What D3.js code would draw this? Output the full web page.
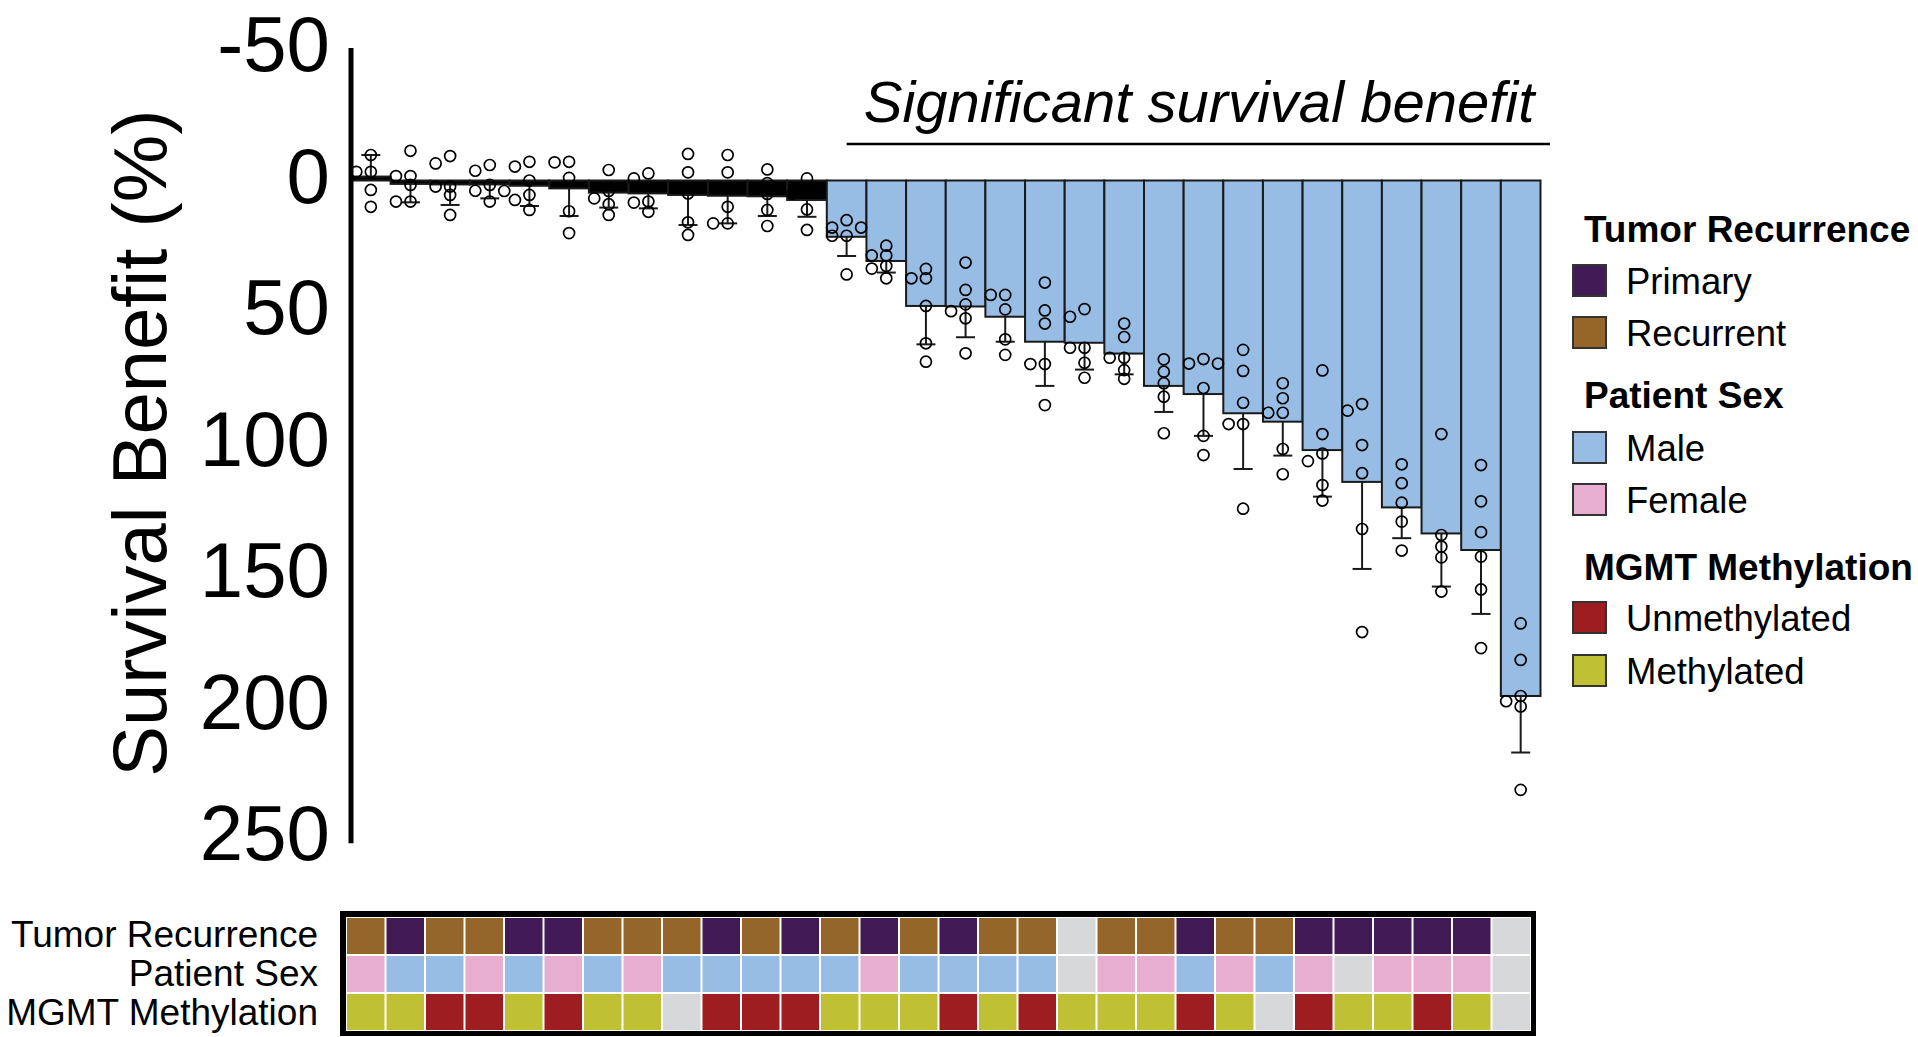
<!DOCTYPE html>
<html><head><meta charset="utf-8">
<script src="https://cdn.jsdelivr.net/npm/d3@7"></script>
<style>html,body{margin:0;padding:0;background:#fff;} svg{display:block;font-family:"Liberation Sans",Arial,Helvetica,sans-serif;}</style>
</head><body><svg id="chart" width="1918" height="1037"></svg>
<script>
// ---------- DATA ----------
const samples = d3.range(1, 31).map(i => "S" + i);
const meanBenefit = [-1.5, 1.3, 1.5, 1.5, 2.0, 3.0, 4.6, 4.9, 5.5, 5.8, 6.0, 7.4,
  21.4, 30.6, 47.7, 47.9, 51.8, 61.3, 61.7, 65.8, 78.1, 81.2, 88.5, 91.7, 102.5, 114.6, 124.3, 134.2, 140.5, 196.0];
const sdBenefit = [8.2, 7.0, 7.8, 5.3, 7.7, 10.5, 5.7, 5.7, 11.4, 10.5, 7.5, 6.4,
  7.3, 4.4, 14.6, 11.7, 9.5, 16.8, 10.2, 7.9, 9.9, 15.9, 21.2, 12.9, 17.7, 33.1, 11.7, 20.2, 24.3, 21.5];
const replicateValues = [
  [-9.7, -3.3, -3.3, 3.6, 10],
  [-11.3, -1.7, -1.7, 1.7, 8, 8],
  [-9.3, -6.5, 2.3, 2.3, 5.5, 13.1],
  [-5.9, -3.7, 1.7, 3.9, 4, 8],
  [-7.1, -5.3, 0, 5.5, 7.4, 11.2],
  [-7.1, -6.9, -1, 11.7, 20],
  [-4, 4, 6.8, 9, 13.1],
  [-2.7, -0.8, 8, 8.4, 11.9],
  [-10.1, -3.1, 4.9, 15.9, 20.7],
  [-9.7, -3.1, 10, 16.3, 16.3],
  [-4.2, 1, 5.1, 11.2, 17.3],
  [-0.8, 3, 5, 11, 18.8],
  [15.1, 17.9, 17.9, 21, 21, 35.7],
  [24.8, 28.5, 28.5, 32.5, 33.5, 37.2],
  [33.6, 37.2, 37.2, 47.7, 61.9, 68.9],
  [31.2, 41.6, 47.1, 49.7, 52.4, 65.7],
  [43.5, 43.5, 49, 60.4, 66.3],
  [38.8, 49.4, 54.4, 69.8, 69.8, 85.4],
  [48.9, 51.8, 63.6, 63.6, 69.3, 75],
  [54.4, 59.5, 67.4, 67.4, 72.1, 75.4],
  [68, 72.7, 77.1, 82.2, 96.1],
  [67.9, 69.6, 69.6, 78.9, 97.1, 104.4],
  [64.4, 72.4, 84.5, 92.6, 92.6, 124.8],
  [77.1, 82.8, 88.3, 88.3, 102.1, 111.7],
  [72.2, 96.4, 103.8, 106.7, 115.8, 121.7],
  [85, 87.5, 100.6, 111.3, 132.5, 171.7],
  [107.9, 115.1, 122.5, 129.7, 140.7],
  [96.4, 134.8, 139.2, 143.3, 156.3],
  [108.2, 122, 133.7, 143, 155.5, 177.8],
  [168.4, 182.3, 196, 198, 200, 231.7]
];
const significant = samples.map((s, i) => i >= 12);
const tumorRecurrence = ["Recurrent","Primary","Recurrent","Recurrent","Primary","Primary","Recurrent","Recurrent","Recurrent","Primary",
  "Recurrent","Primary","Recurrent","Primary","Recurrent","Primary","Recurrent","Recurrent",null,"Recurrent",
  "Recurrent","Primary","Recurrent","Recurrent","Primary","Primary","Primary","Primary","Primary",null];
const patientSex = ["Female","Male","Male","Female","Male","Female","Male","Female","Male","Male",
  "Male","Male","Male","Female","Male","Male","Male","Male",null,"Female",
  "Female","Male","Female","Male","Female",null,"Female","Female","Female",null];
const mgmtMethylation = ["Methylated","Methylated","Unmethylated","Unmethylated","Methylated","Unmethylated","Methylated","Methylated",null,"Unmethylated",
  "Unmethylated","Unmethylated","Methylated","Methylated","Methylated","Unmethylated","Methylated","Unmethylated","Methylated","Methylated",
  "Methylated","Unmethylated","Methylated",null,"Unmethylated","Methylated","Methylated","Unmethylated","Methylated",null];
const annotationRows = ["Tumor Recurrence", "Patient Sex", "MGMT Methylation"];
const annotationData = [tumorRecurrence, patientSex, mgmtMethylation];
const yTicks = [-50, 0, 50, 100, 150, 200, 250];
const legendGroups = [
  {title: "Tumor Recurrence", items: ["Primary", "Recurrent"]},
  {title: "Patient Sex", items: ["Male", "Female"]},
  {title: "MGMT Methylation", items: ["Unmethylated", "Methylated"]}
];
const titleText = "Significant survival benefit";
const yAxisTitle = "Survival Benefit (%)";

// ---------- STYLE ----------
const colors = {
  Primary: "#421a55", Recurrent: "#956629",
  Male: "#97bde5", Female: "#e7aed0",
  Unmethylated: "#9e1d21", Methylated: "#bfc033",
  missing: "#d7d8da"
};

const svg = d3.select("#chart");
const x = d3.scaleBand().domain(samples).range([351, 1540.5]).padding(0);
const y = d3.scaleLinear().domain([-50, 250]).range([49, 838]);
const bw = x.bandwidth();

// bars
svg.append("g").selectAll("rect").data(samples).join("rect")
  .attr("x", s => x(s))
  .attr("width", bw)
  .attr("y", (s, i) => Math.min(y(0), y(meanBenefit[i])))
  .attr("height", (s, i) => Math.abs(y(meanBenefit[i]) - y(0)))
  .attr("fill", (s, i) => significant[i] ? colors.Male : "#000")
  .attr("stroke", "#1a1a1a").attr("stroke-width", 2);

// error bars
const eb = svg.append("g").attr("stroke", "#1a1a1a").attr("stroke-width", 2);
samples.forEach((s, i) => {
  const m = meanBenefit[i], sd = sdBenefit[i];
  const end = m + (m < 0 ? -sd : sd);
  const cx = x(s) + bw / 2;
  eb.append("line").attr("x1", cx).attr("x2", cx).attr("y1", y(m)).attr("y2", y(end));
  eb.append("line").attr("x1", cx - 9.5).attr("x2", cx + 9.5).attr("y1", y(end)).attr("y2", y(end));
});

// replicate dots (simple beeswarm)
const dotG = svg.append("g");
const lanes = [0, -14.5, 14.5];
samples.forEach((s, i) => {
  const cx = x(s) + bw / 2;
  const placed = [];
  replicateValues[i].slice().sort((a, b) => a - b).forEach(v => {
    const py = y(v);
    let best = null, bestD = -1;
    for (const off of lanes) {
      const d = placed.length ? d3.min(placed, p => Math.hypot(p.off - off, p.py - py)) : Infinity;
      if (d >= 8) { best = off; bestD = d; break; }
      if (d > bestD) { bestD = d; best = off; }
    }
    placed.push({off: best, py});
  });
  dotG.selectAll(null).data(placed).join("circle")
    .attr("cx", p => cx + p.off).attr("cy", p => p.py).attr("r", 5.5)
    .attr("fill", "none").attr("stroke", "#000").attr("stroke-width", 1.7);
});

// y axis
const yAxis = svg.append("g").attr("transform", "translate(351,0)")
  .call(d3.axisLeft(y).tickValues(yTicks).tickFormat(d => String(d)).tickSize(0).tickSizeOuter(0).tickPadding(21));
yAxis.select(".domain").attr("stroke", "#000").attr("stroke-width", 5)
  .attr("d", `M0,${y(-50) - 1}V${y(252)}`);
yAxis.selectAll(".tick text").attr("font-size", 78).attr("fill", "#000").attr("dy", "0.28em")
  .attr("font-family", "'Liberation Sans', Arial, sans-serif");

svg.append("text").attr("transform", "translate(139,443) rotate(-90)")
  .attr("text-anchor", "middle").attr("dominant-baseline", "central")
  .attr("font-size", 76).text(yAxisTitle);

// significance title
const sigStart = x(samples[12]) + bw / 2;
svg.append("text").attr("x", 1199).attr("y", 122).attr("text-anchor", "middle")
  .attr("font-size", 58).attr("font-style", "italic").text(titleText);
svg.append("line").attr("x1", sigStart).attr("x2", 1550).attr("y1", 144).attr("y2", 144)
  .attr("stroke", "#000").attr("stroke-width", 2.5);

// heatmap
const hx = d3.scaleBand().domain(samples).range([346, 1531]);
const hy = d3.scaleBand().domain(annotationRows).range([917, 1031]);
svg.append("rect").attr("x", 340).attr("y", 911).attr("width", 1196).attr("height", 125).attr("fill", "#000");
svg.append("rect").attr("x", 346).attr("y", 917).attr("width", 1185).attr("height", 114).attr("fill", "#fff");
annotationRows.forEach((r, ri) => {
  svg.append("g").selectAll("rect").data(samples).join("rect")
    .attr("x", s => hx(s) + 1).attr("width", hx.bandwidth() - 2)
    .attr("y", hy(r) + 1).attr("height", hy.bandwidth() - 2)
    .attr("fill", (s, i) => annotationData[ri][i] ? colors[annotationData[ri][i]] : colors.missing);
  svg.append("text").attr("x", 318).attr("y", hy(r) + hy.bandwidth() / 2 - 2 + ri).attr("dy", "0.35em")
    .attr("text-anchor", "end").attr("font-size", 37).text(r);
});

// legend
const legendLayout = [{title: 242, items: [265, 317]}, {title: 408, items: [432, 484]}, {title: 580, items: [602, 655]}];
legendGroups.forEach((g, gi) => {
  const L = legendLayout[gi];
  svg.append("text").attr("x", 1584).attr("y", L.title).attr("font-size", 37).attr("font-weight", "bold").text(g.title);
  g.items.forEach((it, k) => {
    svg.append("rect").attr("x", 1573).attr("y", L.items[k]).attr("width", 33).attr("height", 31)
      .attr("fill", colors[it]).attr("stroke", "#333").attr("stroke-width", 2);
    svg.append("text").attr("x", 1626).attr("y", L.items[k] + 29).attr("font-size", 36.5).text(it);
  });
});
</script></body></html>
